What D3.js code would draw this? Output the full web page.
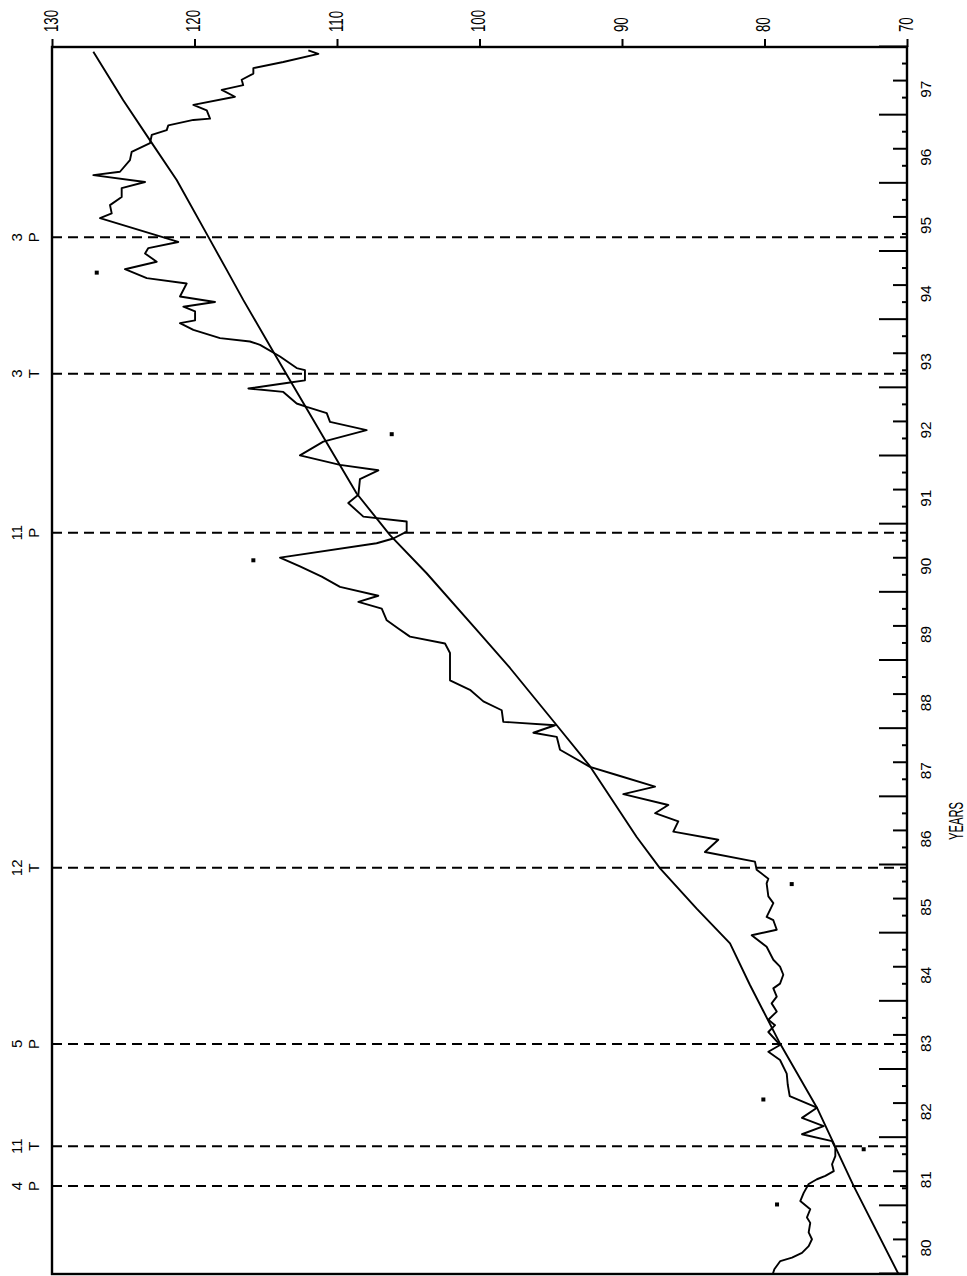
<!DOCTYPE html>
<html>
<head>
<meta charset="utf-8">
<script src="https://cdn.jsdelivr.net/npm/d3@7"></script>
<style>
  html, body { margin: 0; padding: 0; background: #fff; }
  svg { display: block; }
  text { font-family: "Liberation Sans", Arial, sans-serif; fill: #000; }
</style>
</head>
<body>
<svg id="chart" width="967" height="1276"></svg>
<script>
// Monthly composite index against its long-run trend, 1980-1997,
// with business-cycle peaks (P) and troughs (T). Printed sideways.

// ---- data ----------------------------------------------------------------
const indexYears = [
  1980.01, 1980.07, 1980.19, 1980.24, 1980.31, 1980.41, 1980.51, 1980.61, 1980.75, 1980.83,
  1980.95, 1981.07, 1981.19, 1981.32, 1981.39, 1981.44, 1981.51, 1981.61, 1981.73, 1981.85,
  1981.95, 1982.05, 1982.17, 1982.29, 1982.44, 1982.61, 1982.78, 1982.94, 1983.14, 1983.26,
  1983.36, 1983.55, 1983.65, 1983.73, 1983.85, 1983.97, 1984.07, 1984.19, 1984.26, 1984.39,
  1984.51, 1984.61, 1984.80, 1984.97, 1985.05, 1985.19, 1985.24, 1985.44, 1985.54, 1985.73,
  1985.80, 1985.93, 1986.05, 1986.19, 1986.37, 1986.49, 1986.64, 1986.76, 1986.88, 1987.04,
  1987.15, 1987.32, 1987.44, 1987.69, 1987.88, 1987.94, 1988.05, 1988.10, 1988.27, 1988.40,
  1988.57, 1988.71, 1989.11, 1989.25, 1989.35, 1989.47, 1989.59, 1989.76, 1989.86, 1989.95,
  1990.08, 1990.23, 1990.38, 1990.51, 1990.72, 1990.79, 1990.89, 1991.04, 1991.11, 1991.31,
  1991.43, 1991.66, 1991.79, 1991.87, 1992.01, 1992.21, 1992.38, 1992.50, 1992.63, 1992.72,
  1992.77, 1992.94, 1992.99, 1993.07, 1993.11, 1993.26, 1993.29, 1993.46, 1993.63, 1993.68,
  1993.73, 1993.85, 1993.95, 1993.99, 1994.12, 1994.19, 1994.26, 1994.34, 1994.53, 1994.61,
  1994.74, 1994.85, 1994.97, 1995.05, 1995.14, 1995.49, 1995.56, 1995.68, 1995.80, 1995.93,
  1996.02, 1996.12, 1996.17, 1996.34, 1996.46, 1996.59, 1996.71, 1996.78, 1996.85, 1996.93,
  1996.95, 1997.07, 1997.15, 1997.27, 1997.37, 1997.44, 1997.52, 1997.61, 1997.69, 1997.78,
  1997.90, 1997.95
];
const indexValues = [
  79.40, 79.31, 78.89, 78.07, 77.37, 76.90, 76.67, 76.90, 76.79, 77.02,
  76.79, 77.49, 77.25, 76.90, 76.32, 75.73, 75.14, 75.26, 75.03, 75.03,
  75.26, 77.37, 75.85, 77.37, 76.32, 78.23, 78.37, 78.44, 78.91, 79.73,
  78.91, 79.73, 79.26, 79.73, 79.14, 79.50, 79.14, 79.38, 78.91, 78.68,
  78.91, 79.38, 79.85, 80.90, 79.14, 79.38, 79.85, 79.38, 79.73, 79.85,
  79.73, 80.55, 80.67, 84.18, 83.24, 86.40, 86.05, 87.68, 86.75, 89.91,
  87.68, 90.37, 92.25, 94.35, 94.58, 96.22, 94.70, 98.33, 98.44, 99.73,
  100.67, 102.07, 102.07, 102.42, 104.88, 105.70, 106.51, 106.86, 108.50, 107.10,
  109.79, 111.07, 112.60, 114.00, 107.22, 106.05, 105.11, 105.11, 108.15, 109.21,
  108.50, 108.39, 107.10, 109.79, 112.60, 110.96, 107.92, 110.49, 110.72, 112.13,
  112.83, 113.77, 116.22, 113.53, 112.25, 112.25, 112.83, 114.00, 115.40, 116.11,
  118.21, 120.08, 121.02, 119.96, 119.96, 120.78, 118.56, 121.02, 120.55, 123.35,
  124.88, 122.65, 123.47, 123.24, 121.14, 126.63, 125.81, 125.93, 125.11, 125.11,
  123.47, 127.10, 125.23, 124.53, 124.41, 123.12, 123.00, 121.95, 121.84, 120.08,
  118.91, 119.14, 120.08, 117.16, 118.09, 116.58, 116.69, 115.87, 115.87, 113.77,
  111.31, 112.01
];

const trendYears = [
  1980.00, 1981.29, 1982.44, 1983.38, 1984.24, 1984.85, 1985.36, 1985.95, 1986.41, 1987.45,
  1988.05, 1988.89, 1989.45, 1990.28, 1990.84, 1991.45, 1992.28, 1993.11, 1993.53, 1994.29,
  1994.73, 1995.17, 1996.05, 1996.63, 1997.22, 1997.93
];
const trendValues = [
  70.60, 73.74, 76.32, 78.91, 81.02, 82.42, 84.76, 87.33, 88.97, 92.25,
  94.58, 97.86, 100.20, 103.71, 106.28, 108.62, 110.96, 113.30, 114.47, 116.58,
  117.74, 118.91, 121.25, 123.12, 125.00, 127.10
];

// isolated plotted points
const markYears  = [1981.02, 1981.83, 1982.56, 1985.72, 1990.47, 1992.32, 1994.69];
const markValues = [79.12, 73.04, 80.08, 78.09, 115.87, 106.16, 126.86];

// turning points: month, year, peak/trough
const turnMonths = [4, 11, 5, 12, 11, 3, 3];
const turnYears  = [1981, 1981, 1983, 1985, 1990, 1993, 1995];
const turnTypes  = ["P", "T", "P", "T", "P", "T", "P"];

// axis ticks and labels
const valueTicks = [70, 80, 90, 100, 110, 120, 130];
const yearStarts = [1980, 1981, 1982, 1983, 1984, 1985, 1986, 1987, 1988,
                    1989, 1990, 1991, 1992, 1993, 1994, 1995, 1996, 1997];
const yearLabels = ["80", "81", "82", "83", "84", "85", "86", "87", "88",
                    "89", "90", "91", "92", "93", "94", "95", "96", "97"];
const axisTitle = "YEARS";

// ---- layout --------------------------------------------------------------
// The plot is built as an ordinary landscape chart (time across, value up)
// and the whole group is turned a quarter turn counter-clockwise.
const OX = 52, OY = 1274;   // page position of the chart origin
const W = 1227;             // length of the time axis
const H = 855;              // length of the value axis

const svg = d3.select("#chart");
svg.append("rect").attr("width", 967).attr("height", 1276).attr("fill", "#fff");

const g = svg.append("g").attr("transform", `translate(${OX},${OY}) rotate(-90)`);

const x = d3.scaleLinear().domain([1980, 1998]).range([0, W]);
const y = d3.scaleLinear().domain([70, 130]).range([H, 0]);

// quarterly tick marks along the time axis
const quarterTicks = d3.range(0, 18 * 4 + 1).map(i => 1980 + i / 4);
function tickLen(d) {
  const q = Math.round((d - 1980) * 4) % 4;
  return q === 0 ? 28 : (q === 2 ? 14 : 5);
}

// turning-point dashed rules
const turns = turnYears.map((yr, i) => ({
  t: yr + (turnMonths[i] - 0.5) / 12,
  month: String(turnMonths[i]),
  type: turnTypes[i]
}));

g.selectAll("line.turn")
  .data(turns)
  .join("line")
  .attr("class", "turn")
  .attr("x1", d => x(d.t)).attr("x2", d => x(d.t))
  .attr("y1", 0).attr("y2", H)
  .attr("stroke", "#000")
  .attr("stroke-width", 2)
  .attr("stroke-dasharray", "10,6");

g.selectAll("text.turn-month")
  .data(turns)
  .join("text")
  .attr("class", "turn-month")
  .attr("x", d => x(d.t))
  .attr("y", -30)
  .attr("text-anchor", "middle")
  .attr("font-size", 15)
  .text(d => d.month);

g.selectAll("text.turn-type")
  .data(turns)
  .join("text")
  .attr("class", "turn-type")
  .attr("x", d => x(d.t))
  .attr("y", -13)
  .attr("text-anchor", "middle")
  .attr("font-size", 15)
  .text(d => d.type);

// trend line
const line = d3.line().x(d => x(d[0])).y(d => y(d[1]));
g.append("path")
  .datum(trendYears.map((t, i) => [t, trendValues[i]]))
  .attr("d", line)
  .attr("fill", "none")
  .attr("stroke", "#000")
  .attr("stroke-width", 1.9)
  .attr("stroke-linejoin", "round");

// index line
g.append("path")
  .datum(indexYears.map((t, i) => [t, indexValues[i]]))
  .attr("d", line)
  .attr("fill", "none")
  .attr("stroke", "#000")
  .attr("stroke-width", 1.9)
  .attr("stroke-linejoin", "round");

// isolated points
g.selectAll("rect.mark")
  .data(markYears.map((t, i) => [t, markValues[i]]))
  .join("rect")
  .attr("class", "mark")
  .attr("x", d => x(d[0]) - 2).attr("y", d => y(d[1]) - 2)
  .attr("width", 4).attr("height", 4)
  .attr("fill", "#000");

// frame
g.append("rect")
  .attr("x", 0).attr("y", 0).attr("width", W).attr("height", H)
  .attr("fill", "none").attr("stroke", "#000").attr("stroke-width", 2.4);

// value axis (drawn along the far end of the time axis)
const gy = g.append("g")
  .attr("transform", `translate(${W},0)`)
  .call(d3.axisRight(y).tickValues(valueTicks).tickSize(8).tickFormat(d3.format("d")));
gy.select(".domain").remove();
gy.selectAll(".tick line").attr("stroke", "#000").attr("stroke-width", 2);
gy.selectAll(".tick text")
  .attr("font-size", 20)
  .attr("x", 15 / 0.66)
  .attr("y", -2)
  .attr("dy", "0.35em")
  .attr("transform", "scale(0.66,1)");

// time axis: quarterly ticks pointing into the plot
const gx = g.append("g")
  .attr("transform", `translate(0,${H})`)
  .call(d3.axisBottom(x).tickValues(quarterTicks).tickSize(-5).tickFormat(""));
gx.select(".domain").remove();
gx.selectAll(".tick line")
  .attr("y2", d => -tickLen(d))
  .attr("stroke", "#000")
  .attr("stroke-width", 2);

// year labels, ending at mid-year
const gl = g.append("g")
  .attr("transform", `translate(0,${H})`)
  .call(d3.axisBottom(x)
    .tickValues(yearStarts.map(t => t + 0.5))
    .tickSize(0)
    .tickFormat((d, i) => yearLabels[i]));
gl.select(".domain").remove();
gl.selectAll(".tick text")
  .attr("font-size", 14)
  .attr("x", 0)
  .attr("y", 0)
  .attr("dy", 0)
  .attr("text-anchor", "end")
  .attr("transform", "translate(0,24) scale(1.1,1)");

// axis title, placed by page position
const titleY = 821, titleX = 956;
g.append("text")
  .attr("transform", `translate(${OY - titleY},${titleX - OX + 7}) scale(0.56,1)`)
  .attr("text-anchor", "middle")
  .attr("font-size", 20)
  .text(axisTitle);
</script>
</body>
</html>
